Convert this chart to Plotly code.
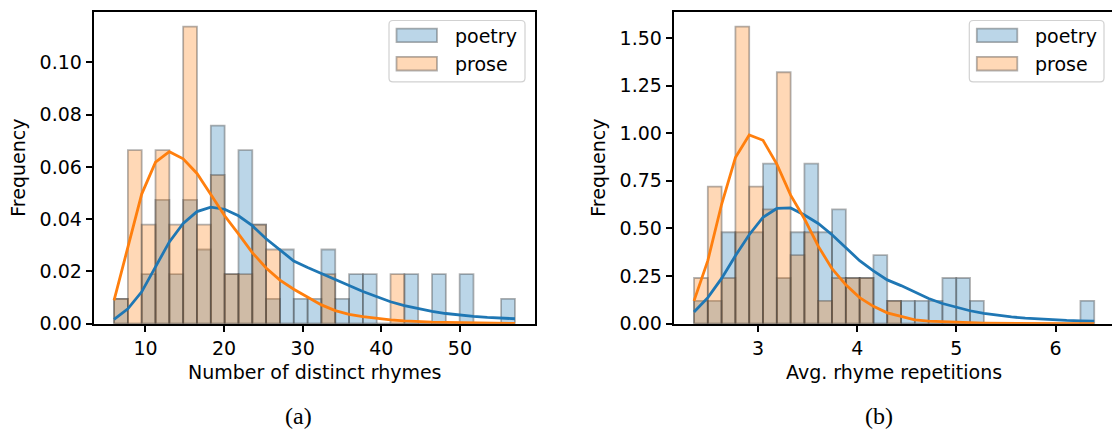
import numpy as np
import plotly.graph_objects as go

W, H = 1112, 440

# ---------------- (a) number of distinct rhymes ----------------
rhyme_bin_range = (6.0, 57.0)   # 29 shared histogram bins
poetry_rhymes = [0.0095, 0.0, 0.0190, 0.0474, 0.0190, 0.0474, 0.0284, 0.0758, 0.0190, 0.0664,
                 0.0379, 0.0095, 0.0284, 0.0095, 0.0095, 0.0284, 0.0095, 0.0190, 0.0190, 0.0,
                 0.0, 0.0190, 0.0, 0.0190, 0.0, 0.0190, 0.0, 0.0, 0.0095]
prose_rhymes = [0.0095, 0.0664, 0.0379, 0.0664, 0.0379, 0.1137, 0.0379, 0.0569, 0.0190, 0.0190,
                0.0379, 0.0284, 0.0, 0.0, 0.0, 0.0190, 0.0, 0.0, 0.0, 0.0,
                0.0190, 0.0, 0.0, 0.0, 0.0, 0.0, 0.0, 0.0, 0.0]
# fitted densities evaluated at the bin edges
poetry_rhymes_fit = [0.0017, 0.0057, 0.0122, 0.0219, 0.0313, 0.0384, 0.0429, 0.0446, 0.0438, 0.0413,
                     0.0375, 0.0325, 0.0282, 0.0240, 0.0215, 0.0193, 0.0170, 0.0146, 0.0123, 0.0102,
                     0.0084, 0.0069, 0.0057, 0.0047, 0.0039, 0.0033, 0.0028, 0.0024, 0.0021, 0.0019]
prose_rhymes_fit = [0.0089, 0.0292, 0.0496, 0.0618, 0.0658, 0.0631, 0.0575, 0.0494, 0.0413, 0.0344,
                    0.0272, 0.0213, 0.0167, 0.0132, 0.0102, 0.0072, 0.0050, 0.0036, 0.0027, 0.0020,
                    0.0015, 0.0011, 0.0008, 0.0006, 0.0005, 0.0004, 0.0003, 0.0002, 0.0002, 0.0001]
rhyme_xticks = [10, 20, 30, 40, 50]
rhyme_yticks = [0.00, 0.02, 0.04, 0.06, 0.08, 0.10]

# ---------------- (b) average rhyme repetitions ----------------
rep_bin_range = (2.355, 6.39)
poetry_reps = [0.12, 0.12, 0.48, 0.48, 0.48, 0.84, 0.24, 0.48, 0.84, 0.48,
               0.60, 0.24, 0.24, 0.36, 0.12, 0.12, 0.12, 0.12, 0.24, 0.24,
               0.12, 0.0, 0.0, 0.0, 0.0, 0.0, 0.0, 0.0, 0.12]
prose_reps = [0.24, 0.72, 0.24, 1.56, 0.72, 0.60, 1.32, 0.36, 0.48, 0.12,
              0.24, 0.24, 0.24, 0.0, 0.12, 0.0, 0.0, 0.0, 0.0, 0.0,
              0.0, 0.0, 0.0, 0.0, 0.0, 0.0, 0.0, 0.0, 0.0]
poetry_reps_fit = [0.061, 0.137, 0.238, 0.357, 0.467, 0.559, 0.605, 0.608, 0.571, 0.526,
                   0.467, 0.399, 0.331, 0.277, 0.230, 0.200, 0.166, 0.132, 0.106, 0.085,
                   0.068, 0.054, 0.044, 0.036, 0.029, 0.024, 0.020, 0.017, 0.015, 0.014]
prose_reps_fit = [0.120, 0.331, 0.627, 0.872, 0.991, 0.963, 0.838, 0.675, 0.551, 0.407,
                  0.289, 0.204, 0.137, 0.091, 0.057, 0.037, 0.020, 0.014, 0.010, 0.007,
                  0.005, 0.003, 0.002, 0.001, 0.001, 0.0008, 0.0005, 0.0004, 0.0003, 0.0002]
rep_xticks = [3, 4, 5, 6]
rep_yticks = [0.00, 0.25, 0.50, 0.75, 1.00, 1.25, 1.50]

series_names = ["poetry", "prose"]
BLUE, ORANGE = "#1f77b4", "#ff7f0e"
FILL = {"poetry": "rgba(31,119,180,0.3)", "prose": "rgba(255,127,14,0.3)"}
EDGE = "rgba(64,64,64,0.4)"
FONT = "DejaVu Sans"
FS = 19


def px(x):
    return x / W


def py(y):
    return 1 - y / H


fig = go.Figure()


def add_panel(xa, ya, lo, hi, poetry, prose, poetry_fit, prose_fit):
    edges = np.linspace(lo, hi, len(poetry) + 1)
    centers = (edges[:-1] + edges[1:]) / 2
    width = edges[1] - edges[0]
    for name, vals in zip(series_names, [poetry, prose]):
        fig.add_trace(go.Bar(
            x=centers, y=vals, width=width, name=name, showlegend=False,
            marker=dict(color=FILL[name], line=dict(color=EDGE, width=1.8)),
            xaxis=xa, yaxis=ya, hoverinfo="skip"))
    for color, vals in zip([BLUE, ORANGE], [poetry_fit, prose_fit]):
        fig.add_trace(go.Scatter(
            x=edges, y=vals, mode="lines", showlegend=False,
            line=dict(color=color, width=2.8), xaxis=xa, yaxis=ya, hoverinfo="skip"))


add_panel("x", "y", *rhyme_bin_range, poetry_rhymes, prose_rhymes,
          poetry_rhymes_fit, prose_rhymes_fit)
add_panel("x2", "y2", *rep_bin_range, poetry_reps, prose_reps,
          poetry_reps_fit, prose_reps_fit)

axis_common = dict(showgrid=False, zeroline=False, showline=True, linecolor="black",
                   linewidth=1.6, ticks="outside", ticklen=6.5, tickwidth=1.5,
                   tickcolor="black", tickfont=dict(family=FONT, size=FS, color="black"))

span_a = rhyme_bin_range[1] - rhyme_bin_range[0]
span_b = rep_bin_range[1] - rep_bin_range[0]
y_dom = [py(332), py(12)]

fig.update_layout(
    width=W, height=H, margin=dict(l=0, r=0, t=0, b=0),
    paper_bgcolor="white", plot_bgcolor="white", barmode="overlay",
    xaxis=dict(domain=[px(94), px(535)],
               range=[rhyme_bin_range[0] - 0.05 * span_a, rhyme_bin_range[1] + 0.05 * span_a],
               tickvals=rhyme_xticks, mirror=True, anchor="y", **axis_common),
    yaxis=dict(domain=y_dom, range=[0, 1.05 * max(prose_rhymes)],
               tickvals=rhyme_yticks, tickformat=".2f", mirror=True, anchor="x",
               **axis_common),
    xaxis2=dict(domain=[px(674), 1.0],
                range=[rep_bin_range[0] - 0.05 * span_b, 6.569],
                tickvals=rep_xticks, mirror=True, anchor="y2", **axis_common),
    yaxis2=dict(domain=y_dom, range=[0, 1.05 * max(prose_reps)],
                tickvals=rep_yticks, tickformat=".2f", anchor="x2", **axis_common),
)

annotations = []
shapes = []


def text(x, y, s, size=FS, family=FONT, angle=0, xanchor="center"):
    annotations.append(dict(x=px(x), y=py(y), xref="paper", yref="paper", text=s,
                            showarrow=False, textangle=angle, xanchor=xanchor,
                            yanchor="middle", font=dict(family=family, size=size,
                                                        color="black")))


# axis titles and sub-captions
text(18, 172, "Frequency", angle=-90)
text(314.5, 382, "Number of distinct rhymes")
text(598, 172, "Frequency", angle=-90)
text(894, 382, "Avg. rhyme repetitions")
text(298.5, 427, "(a)", size=24, family="Liberation Serif")
text(878.5, 427, "(b)", size=24, family="Liberation Serif")


def rounded_box(x0, y0, x1, y1, r=4):
    p = [f"M{px(x0 + r)},{py(y0)}", f"L{px(x1 - r)},{py(y0)}",
         f"Q{px(x1)},{py(y0)} {px(x1)},{py(y0 + r)}", f"L{px(x1)},{py(y1 - r)}",
         f"Q{px(x1)},{py(y1)} {px(x1 - r)},{py(y1)}", f"L{px(x0 + r)},{py(y1)}",
         f"Q{px(x0)},{py(y1)} {px(x0)},{py(y1 - r)}", f"L{px(x0)},{py(y0 + r)}",
         f"Q{px(x0)},{py(y0)} {px(x0 + r)},{py(y0)}", "Z"]
    return " ".join(p)


def legend(box_x0, box_x1):
    shapes.append(dict(type="path", xref="paper", yref="paper",
                       path=rounded_box(box_x0, 21, box_x1, 84),
                       fillcolor="rgba(255,255,255,0.8)",
                       line=dict(color="rgba(204,204,204,0.9)", width=1.2), layer="above"))
    for i, name in enumerate(series_names):
        top = 29.3 + i * 29
        shapes.append(dict(type="rect", xref="paper", yref="paper",
                           x0=px(box_x0 + 7.5), x1=px(box_x0 + 48), y0=py(top + 14),
                           y1=py(top), fillcolor=FILL[name],
                           line=dict(color=EDGE, width=1.8), layer="above"))
        text(box_x0 + 64, top + 7.5, name, xanchor="left")


legend(389, 525)
legend(969.3, 1104)

fig.update_layout(annotations=annotations, shapes=shapes)
fig.write_html("out.html")
